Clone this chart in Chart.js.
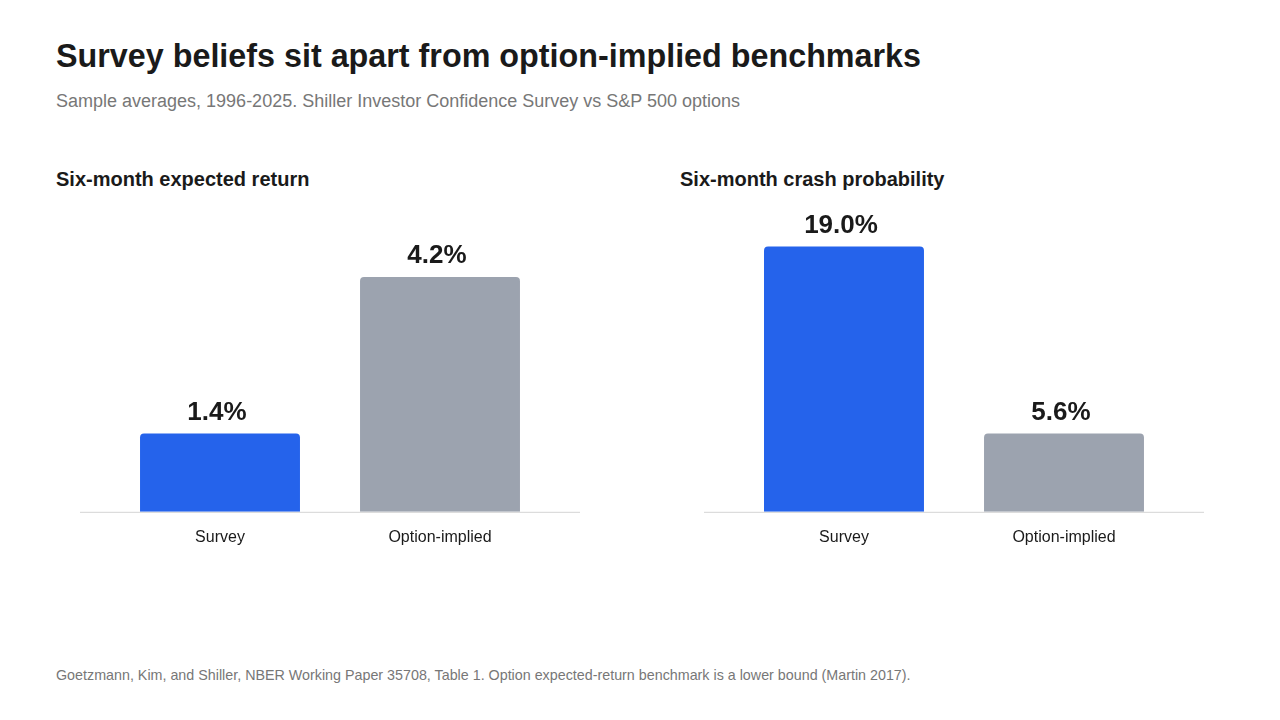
<!DOCTYPE html>
<html><head><meta charset="utf-8">
<script src="https://cdn.jsdelivr.net/npm/chart.js@4"></script>
<style>
body{margin:0;width:1280px;height:720px;background:#fff;font-family:"Liberation Sans",Arial,sans-serif;position:relative;overflow:hidden}
.t{position:absolute;left:56px;top:38px;font-size:32.3px;font-weight:bold;color:#1a1a1a}
.s{position:absolute;left:56px;top:91px;font-size:18px;color:#777}
.p{position:absolute;top:168px;font-size:20px;font-weight:bold;color:#1a1a1a}
.f{position:absolute;left:56px;top:667px;font-size:14.3px;color:#777}
.c{position:absolute;top:215px;width:500px;height:340px}
</style></head><body>
<div class="t">Survey beliefs sit apart from option-implied benchmarks</div>
<div class="s">Sample averages, 1996-2025. Shiller Investor Confidence Survey vs S&amp;P 500 options</div>
<div class="p" style="left:56px">Six-month expected return</div>
<div class="p" style="left:680px">Six-month crash probability</div>
<div class="c" style="left:80px"><canvas id="a"></canvas></div>
<div class="c" style="left:704px"><canvas id="b"></canvas></div>
<div class="f">Goetzmann, Kim, and Shiller, NBER Working Paper 35708, Table 1. Option expected-return benchmark is a lower bound (Martin 2017).</div>
<script>
const categories=["Survey","Option-implied"];
const expectedReturn=[1.4,4.2];
const crashProb=[19.0,5.6];
const colors=["#2563eb","#9ca3af"];
const labelPlugin={id:"lbl",beforeDatasetsDraw(ch){const c=ch.ctx;c.save();c.strokeStyle="#d4d4d4";c.lineWidth=1;c.beginPath();c.moveTo(0,ch.chartArea.bottom+0.5);c.lineTo(ch.width,ch.chartArea.bottom+0.5);c.stroke();c.restore();},
afterDatasetsDraw(ch){const c=ch.ctx;const m=ch.getDatasetMeta(0);c.save();c.font="bold 26px 'Liberation Sans',Arial,sans-serif";c.fillStyle="#1a1a1a";c.textAlign="center";c.textBaseline="bottom";m.data.forEach((e,i)=>{c.fillText(ch.data.datasets[0].data[i].toFixed(1)+"%",e.x-3,e.y-8);});c.restore();}};
function mk(id,data,max){new Chart(document.getElementById(id),{type:"bar",data:{labels:categories,datasets:[{data:data,backgroundColor:colors,borderRadius:{topLeft:4,topRight:4},borderSkipped:"bottom",categoryPercentage:1,barPercentage:0.727}]},
options:{responsive:true,maintainAspectRatio:false,animation:false,layout:{padding:{left:30,right:30,top:0,bottom:0}},plugins:{legend:{display:false},tooltip:{enabled:false}},
scales:{y:{display:false,min:0,max:max},x:{grid:{display:false},border:{display:false},ticks:{color:"#1a1a1a",font:{size:16,family:"'Liberation Sans',Arial,sans-serif"},padding:8}}}},plugins:[labelPlugin]});}
mk("a",expectedReturn,5.31);
mk("b",crashProb,21.25);
</script></body></html>
